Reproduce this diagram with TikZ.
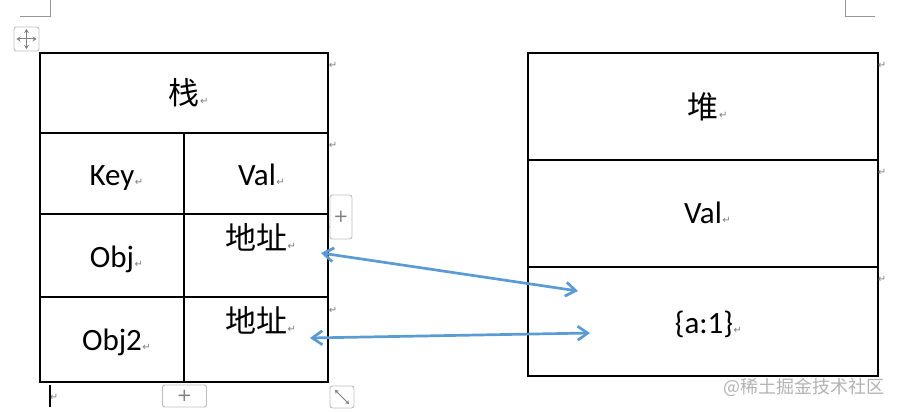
\documentclass[tikz,border=0pt]{standalone}
\usepackage{fontspec}
\setmainfont{Carlito}
\newfontfamily\cjk{Noto Sans CJK SC}
\newfontfamily\symfont{DejaVu Sans}
\usepackage{xcolor}
\definecolor{wordblue}{RGB}{91,155,213}
\definecolor{retgray}{RGB}{125,125,125}
\definecolor{uigray}{RGB}{190,190,190}
\definecolor{markgray}{RGB}{150,150,150}
\usetikzlibrary{arrows.meta}
\newcommand\ret{\rlap{\fontsize{10}{10}\symfont\color{retgray}\kern0.5pt↵}}
\tikzset{
  cell/.style    ={draw,line width=1.2pt,inner sep=0pt,minimum width=#1},
  latin/.style   ={font=\fontsize{31}{36}\selectfont,anchor=base,inner sep=0pt},
  han/.style     ={font=\fontsize{31}{36}\cjk,anchor=base,inner sep=0pt},
  retmark/.style ={font=\fontsize{10}{10}\symfont,text=retgray,inner sep=0pt},
  uibtn/.style   ={draw=uigray,fill=white,rounded corners=2.5pt,line width=0.9pt},
  ref/.style     ={{Straight Barb[length=10pt,width=14pt]}-{Straight Barb[length=10pt,width=14pt]},
                   line width=2.7pt,draw=wordblue},
}
\begin{document}
\begin{tikzpicture}[x=1pt,y=-1pt]
  \useasboundingbox (0,0) rectangle (898,412);
  % page corner marks
  \draw[markgray,line width=0.8pt] (50,0) -- (50,16) -- (20,16);
  \draw[markgray,line width=0.8pt] (845,0) -- (845,16) -- (875,16);
  % stack table
  \node[cell=288pt,minimum height=80pt] (stk)   at (184,93) {};
  \node[cell=144pt,minimum height=81pt] (key)   at (112,173.5) {};
  \node[cell=144pt,minimum height=81pt] (kval)  at (256,173.5) {};
  \node[cell=144pt,minimum height=83pt] (obja)  at (112,255.5) {};
  \node[cell=144pt,minimum height=83pt] (addra) at (256,255.5) {};
  \node[cell=144pt,minimum height=85pt] (objb)  at (112,339.5) {};
  \node[cell=144pt,minimum height=85pt] (addrb) at (256,339.5) {};
  \node[han]   (stkt)   at (184,105) {栈\ret};
  \node[latin] (keyt)   at (112,185) {Key\ret};
  \node[latin] (kvalt)  at (257,185) {Val\ret};
  \node[latin] (objat)  at (112,267) {Obj\ret};
  \node[han]   (addrat) at (256,249) {地址\ret};
  \node[latin] (objbt)  at (112,350) {Obj2\ret};
  \node[han]   (addrbt) at (256,332) {地址\ret};
  % heap table
  \node[cell=350pt,minimum height=107pt] (hp)   at (703,106.5) {};
  \node[cell=350pt,minimum height=107pt] (hval) at (703,213.5) {};
  \node[cell=350pt,minimum height=109pt] (hobj) at (703,321.5) {};
  \node[han]   (hpt)   at (703,118) {堆\ret};
  \node[latin] (hvalt) at (703,223) {Val\ret};
  \node[latin] (hobjt) at (704,333) {\{a:1\}\ret};
  % row end marks
  \foreach \y [count=\i] in {65,145,227,310} \node[retmark] (lr\i) at (333,\y) {↵};
  \foreach \y [count=\i] in {65,172,279} \node[retmark] (rr\i) at (882,\y) {↵};
  \node[retmark] (endmark) at (54,397) {↵};
  \draw[line width=1.6pt] (50,385) -- (50,407);
  % word table handles
  \node[uibtn,minimum width=25pt,minimum height=24pt] (move) at (26.5,39) {};
  \draw[{Stealth[length=4pt,width=5pt]}-{Stealth[length=4pt,width=5pt]},gray,line width=1pt]
    ([xshift=-10pt]move.center) -- ([xshift=10pt]move.center);
  \draw[{Stealth[length=4pt,width=5pt]}-{Stealth[length=4pt,width=5pt]},gray,line width=1pt]
    ([yshift=-10pt]move.center) -- ([yshift=10pt]move.center);
  \node[uibtn,minimum width=22pt,minimum height=44pt,font=\fontsize{18}{18}\symfont,text=gray]
    (addcol) at (341,217) {+};
  \node[uibtn,minimum width=44pt,minimum height=22pt,font=\fontsize{18}{18}\symfont,text=gray]
    (addrow) at (184.5,396) {+};
  \node[uibtn,minimum width=24pt,minimum height=22pt] (resize) at (342,397) {};
  \draw[{Stealth[length=3.5pt,width=4.5pt]}-{Stealth[length=3.5pt,width=4.5pt]},gray,line width=0.9pt]
    ([shift={(-7pt,7pt)}]resize.center) -- ([shift={(7pt,-7pt)}]resize.center);
  % references
  \coordinate (pa) at (321,253);
  \coordinate (qa) at (578,291);
  \coordinate (pb) at (310,338);
  \coordinate (qb) at (590,333);
  \draw[ref] (pa) -- (qa);
  \draw[ref] (pb) -- (qb);
  % watermark
  \node[font=\fontsize{18}{18}\cjk,text=black!30,anchor=base] (wm) at (804,393) {@稀土掘金技术社区};
\end{tikzpicture}
\end{document}
